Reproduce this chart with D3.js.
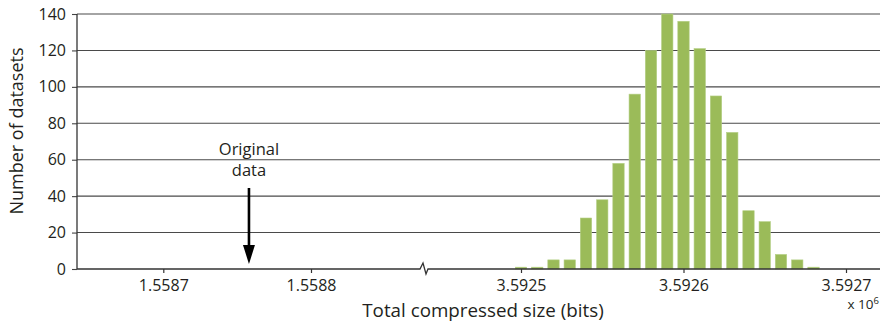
<!DOCTYPE html>
<html>
<head>
<meta charset="utf-8">
<script src="https://cdn.jsdelivr.net/npm/d3@7"></script>
<style>
  html, body { margin: 0; padding: 0; background: #fff; }
  svg { display: block; }
  text { font-family: "Open Sans", "Noto Sans", sans-serif; fill: #231f20; }
</style>
</head>
<body>
<svg id="chart" width="883" height="324"></svg>
<script>
// Histogram bins (bin centres, bits) and counts
const binCenters = [3592500, 3592510, 3592520, 3592530, 3592540, 3592550, 3592560,
  3592570, 3592580, 3592590, 3592600, 3592610, 3592620, 3592630, 3592640,
  3592650, 3592660, 3592670, 3592680];
const counts = [1, 1, 5, 5, 28, 38, 58, 96, 120, 140, 136, 121, 95, 75, 32, 26, 8, 5, 1];
const binWidth = 10;

// Axis ticks
const yTicks = [0, 20, 40, 60, 80, 100, 120, 140];
const leftTicks = [1558700, 1558800];
const rightTicks = [3592500, 3592600, 3592700];
const originalSize = 1558758;

const svg = d3.select("#chart");
const plotLeft = 77, plotRight = 880, plotTop = 14, plotBottom = 269;
const breakX = 424;

const y = d3.scaleLinear().domain([0, 140]).range([plotBottom, plotTop]);
// Broken x axis: two independent linear segments
const xLeft = d3.scaleLinear().domain([1558700, 1558800]).range([163.3, 311]);
const xRight = d3.scaleLinear().domain([3592500, 3592700]).range([521, 846]);

const fmt = v => (v / 1e6).toFixed(4);

// Horizontal grid lines + y ticks
const yAxis = d3.axisLeft(y).tickValues(yTicks).tickSize(5).tickPadding(6).tickFormat(d3.format("d"));
const gy = svg.append("g").attr("transform", `translate(${plotLeft},0)`).call(yAxis);
gy.select(".domain").remove();
gy.selectAll(".tick line").attr("stroke", "#444").attr("stroke-width", 1.1);
gy.selectAll(".tick text").attr("font-size", 16).attr("fill", "#231f20");

svg.append("g").selectAll("line").data(yTicks.filter(d => d > 0)).join("line")
  .attr("x1", plotLeft).attr("x2", plotRight)
  .attr("y1", d => y(d)).attr("y2", d => y(d))
  .attr("stroke", "#4a4a4a").attr("stroke-width", 1.1);

// Bars
svg.append("g").selectAll("rect").data(binCenters).join("rect")
  .attr("x", (d) => xRight(d - binWidth * 0.35))
  .attr("width", (d) => xRight(d + binWidth * 0.35) - xRight(d - binWidth * 0.35))
  .attr("y", (d, i) => y(counts[i]))
  .attr("height", (d, i) => y(0) - y(counts[i]))
  .attr("fill", "#9bbb59")
  .attr("stroke", "#b5cf86").attr("stroke-width", 0.6);

// Y axis line
svg.append("line")
  .attr("x1", plotLeft).attr("x2", plotLeft)
  .attr("y1", plotTop).attr("y2", plotBottom)
  .attr("stroke", "#333").attr("stroke-width", 1.3);

// X axis baseline with break mark
const y0 = y(0);
svg.append("path")
  .attr("d", `M${plotLeft},${y0} H${breakX - 4} L${breakX - 1},${y0 - 6} L${breakX + 2},${y0 + 5} L${breakX + 4},${y0} H${plotRight}`)
  .attr("fill", "none").attr("stroke", "#333").attr("stroke-width", 1.3);

// X ticks on both segments
function xTicks(scale, ticks) {
  const g = svg.append("g").attr("transform", `translate(0,${y0})`)
    .call(d3.axisBottom(scale).tickValues(ticks).tickSize(4).tickPadding(7).tickFormat(fmt));
  g.select(".domain").remove();
  g.selectAll(".tick line").attr("stroke", "#333").attr("stroke-width", 1.2);
  g.selectAll(".tick text").attr("font-size", 16).attr("fill", "#231f20");
}
xTicks(xLeft, leftTicks);
xTicks(xRight, rightTicks);

// Axis titles
svg.append("text")
  .attr("x", 483).attr("y", 317)
  .attr("text-anchor", "middle").attr("font-size", 18.8)
  .text("Total compressed size (bits)");

svg.append("text")
  .attr("transform", "translate(23,131) rotate(-90)")
  .attr("text-anchor", "middle").attr("font-size", 18)
  .text("Number of datasets");

// Exponent label
const expo = svg.append("text")
  .attr("x", 879).attr("y", 309).attr("text-anchor", "end").attr("font-size", 13.5);
expo.append("tspan").text("x 10");
expo.append("tspan").attr("dy", -5).attr("font-size", 9.5).text("6");

// Annotation: original data size
const ax = xLeft(originalSize);
svg.append("text").attr("x", ax).attr("y", 155).attr("text-anchor", "middle")
  .attr("font-size", 16.5).text("Original");
svg.append("text").attr("x", ax).attr("y", 176).attr("text-anchor", "middle")
  .attr("font-size", 16.5).text("data");
svg.append("line")
  .attr("x1", ax).attr("x2", ax).attr("y1", 188).attr("y2", 248)
  .attr("stroke", "#000").attr("stroke-width", 2.6);
svg.append("path")
  .attr("d", `M${ax - 6},${245} L${ax + 6},${245} L${ax},${264} Z`)
  .attr("fill", "#000");
</script>
</body>
</html>
